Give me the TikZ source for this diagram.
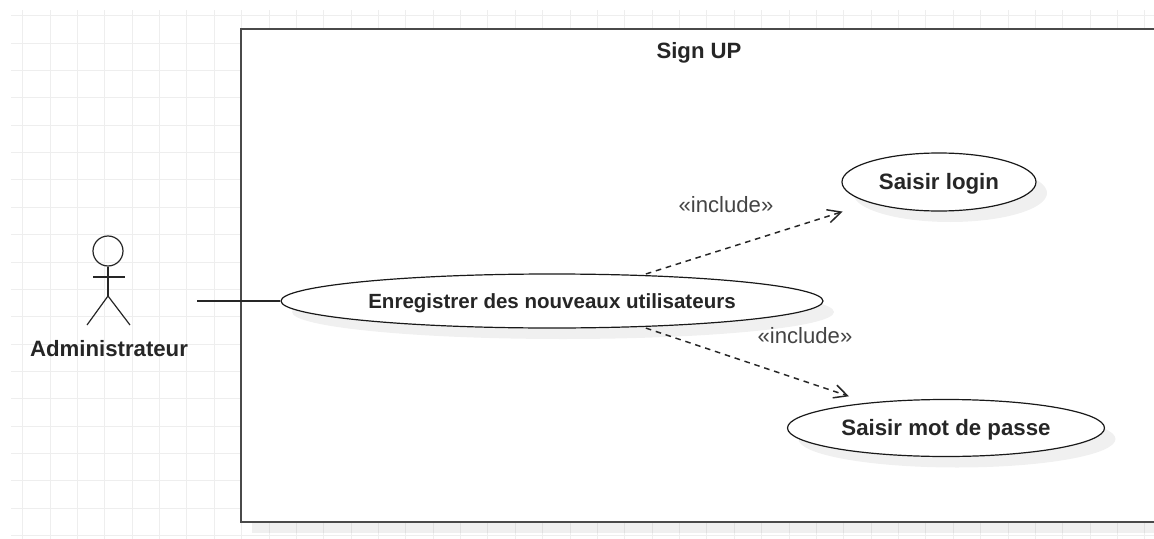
\documentclass[tikz,border=0pt]{standalone}
\usepackage{fontspec}
\setmainfont{Liberation Sans}
\usetikzlibrary{arrows.meta, shapes.geometric, shadows}
\definecolor{gridGrey}{HTML}{EEEEEE}
\definecolor{frameGrey}{HTML}{4A4A4A}
\definecolor{labelGrey}{HTML}{444444}

\begin{document}
\begin{tikzpicture}
    [x=0.75pt, y=-0.75pt,
    gridLine/.style={draw=gridGrey, line width=0.75pt},
    boxShadow/.style={general shadow={shadow xshift=8.25pt, shadow yshift=-8.25pt, fill=black, opacity=0.06}},
    frameBox/.style={rectangle, draw=frameGrey, line width=1.2pt, fill=white, inner sep=0pt, boxShadow},
    useCase/.style={ellipse, draw=black!90, line width=0.9pt, fill=white, inner sep=0pt, boxShadow, text height=11pt, text depth=0.5pt, font=\bfseries\fontsize{16.7pt}{18pt}\selectfont, text=black!85},
    actorLine/.style={draw=black!85, line width=0.9pt},
    includeArrow/.style={draw=black!85, line width=1.1pt, dash pattern=on 4.2pt off 3.6pt, -{Straight Barb[length=10pt, width=10pt, line width=1.1pt]}},
    includeLabel/.style={text=labelGrey, font=\fontsize{16.6pt}{18pt}\selectfont}]
    \useasboundingbox (0, 0) rectangle (1154, 539);
    \foreach \i in {0,...,41}
        \draw[gridLine] ({22.7+27.37*\i}, 10) -- ({22.7+27.37*\i}, 539);
    \foreach \j in {0,...,19}
        \draw[gridLine] (11, {15.7+27.37*\j}) -- (1154, {15.7+27.37*\j});
    \node[frameBox, minimum width=699.75pt, minimum height=369.75pt] (signUp) at (707.5, 275.5){};
    \node[font=\bfseries\fontsize{16.6pt}{18pt}\selectfont, text=black!85] (signUpTitle) at (699, 53){Sign UP};
    \node[useCase, minimum width=406.5pt, minimum height=40.5pt, font=\bfseries\fontsize{15.4pt}{18pt}\selectfont] (enregistrer) at (552, 301){Enregistrer des nouveaux utilisateurs};
    \node[useCase, minimum width=145.5pt, minimum height=43.5pt] (login) at (939, 182){Saisir login};
    \node[useCase, minimum width=237.75pt, minimum height=42.75pt] (passe) at (946, 428){Saisir mot de passe};
    \node[circle, actorLine, minimum size=22.5pt, inner sep=0pt] (tete) at (108, 251){};
    \coordinate (bassin) at (108, 296);
    \coordinate (brasG) at (93, 277);
    \coordinate (brasD) at (125, 277);
    \coordinate (piedG) at (87, 325);
    \coordinate (piedD) at (130, 325);
    \coordinate (assoc) at (197, 301);
    \node[font=\bfseries\fontsize{16.65pt}{18pt}\selectfont, text=black!85] (admin) at (109, 349){Administrateur};
    \draw[actorLine] (tete) -- (bassin);
    \draw[actorLine] (brasG) -- (brasD);
    \draw[actorLine] (piedG) -- (bassin) -- (piedD);
    \draw[actorLine] (assoc) -- (enregistrer);
    \draw[includeArrow, shorten <=2.5pt, shorten >=21.5pt] (enregistrer.16.3) -- (login.south west);
    \draw[includeArrow, shorten <=2.5pt, shorten >=15pt] (enregistrer.-16.6) -- (passe.162);
    \node[includeLabel] (includeHaut) at (726, 205){«include»};
    \node[includeLabel] (includeBas) at (805, 336){«include»};
\end{tikzpicture}
\end{document}
